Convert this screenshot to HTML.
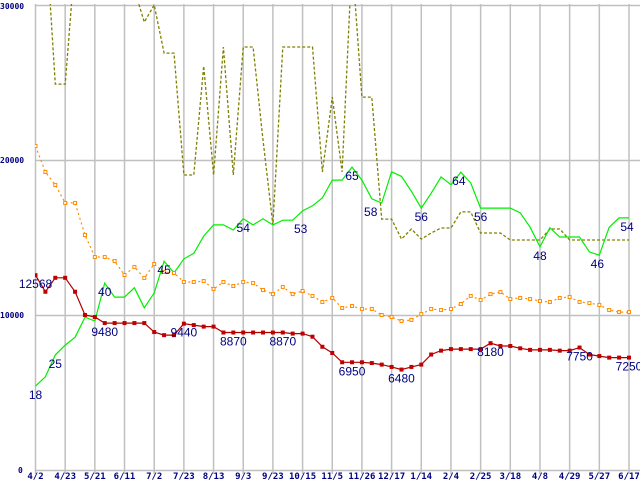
<!DOCTYPE html>
<html><head><meta charset="utf-8"><style>
html,body{margin:0;padding:0;background:#fff;}
svg{display:block;font-family:"Liberation Sans",sans-serif;}
.yt{font:bold 8px "DejaVu Sans Mono","Liberation Mono",monospace;fill:#000080;}
.xt{font:bold 9px "DejaVu Sans Mono","Liberation Mono",monospace;fill:#000080;}
.lb{font:12px "Liberation Sans",sans-serif;fill:#000080;}
</style></head><body>
<svg id="chart" width="640" height="480" xmlns="http://www.w3.org/2000/svg">
<defs><clipPath id="pc"><rect x="35" y="4" width="600" height="466"/></clipPath></defs>
<g id="grid"></g>
<g id="ticks"></g>
<g id="series" clip-path="url(#pc)"></g>
<g id="labels"></g>
</svg>
<script>
const xTickLabels=["4/2","4/23","5/21","6/11","7/2","7/23","8/13","9/3","9/23","10/15","11/5","11/26","12/17","1/14","2/4","2/25","3/18","4/8","4/29","5/27","6/17"];
const yTickValues=[0,10000,20000,30000];
const redSeries=[12568,11500,12400,12400,11500,10000,9870,9480,9480,9480,9480,9480,8900,8700,8700,9440,9350,9250,9250,8870,8870,8870,8870,8870,8870,8870,8800,8800,8600,7950,7550,6950,6950,6950,6900,6800,6650,6480,6650,6800,7450,7700,7800,7800,7800,7800,8180,8000,8000,7850,7750,7750,7750,7700,7700,7900,7450,7350,7250,7250,7250];
const orangeSeries=[20900,19230,18390,17230,17230,15160,13740,13740,13480,12580,13100,12390,13290,12770,12710,12130,12130,12190,11680,12130,11870,12130,12060,11610,11350,11810,11350,11550,11230,10840,11100,10450,10580,10390,10390,10000,9870,9610,9680,10060,10390,10320,10390,10710,11230,10970,11350,11480,11030,11100,11030,10900,10840,11100,11160,10840,10770,10650,10320,10190,10190];
const oliveSeries=[35000,35000,24900,24900,33000,33000,33000,33000,33000,33000,31000,28900,30000,26900,26900,19030,19030,26060,19030,27290,19030,27290,27290,21290,15810,27290,27290,27290,27290,19230,24060,19230,33000,24060,24060,16190,16190,14900,15550,14900,15290,15610,15610,16650,16650,15290,15290,15290,14840,14840,14840,14840,15550,15550,14840,14840,14840,14840,14840,14840,14840];
const greenSeries=[18,20,24.7,26.8,28.5,32.8,32,40.1,37.1,37.1,39.1,34.8,38,44.8,42.3,45.3,46.5,50.2,52.6,52.6,51.5,53.9,52.6,53.9,52.6,53.6,53.6,55.6,56.7,58.4,62.2,62.2,65,62.2,58.2,57.3,64,63,59.8,56.2,59.4,62.9,61.2,63.9,61.6,56.2,56.2,56.2,56.2,55.2,52.1,47.9,52,50,50,50,46.8,46.1,52.1,54.1,54.1];
const redLabels=[[0,"12568",0],[7,"9480",0],[15,"9440",0],[20,"8870",0],[25,"8870",0],[32,"6950",0],[37,"6480",0],[46,"8180",0],[55,"7750",0],[60,"7250",0]];
const greenLabels=[[0,"18",0],[2,"25",0],[7,"40",0],[13,"45",0],[21,"54",0],[26,"53",8],[32,"65",0],[35,"58",-11],[39,"56",0],[43,"64",-2],[45,"56",0],[51,"48",0],[57,"46",-2],[60,"54",-2]];
const NS="http://www.w3.org/2000/svg";
const N=redSeries.length;
function X(i){return 35.5+i*(593.5/(N-1));}
function Y(v){return 470-v*0.0155;}
function YG(v){return 470-v*4.66;}
function mk(tag,attrs,parent){const e=document.createElementNS(NS,tag);for(const k in attrs)e.setAttribute(k,attrs[k]);parent.appendChild(e);return e;}
const grid=document.getElementById('grid'),ticks=document.getElementById('ticks'),ser=document.getElementById('series'),lab=document.getElementById('labels');
yTickValues.forEach(v=>{
  const l=mk('line',{x1:35,x2:640,y1:Y(v)+0.5,y2:Y(v)+0.5,stroke:'#c0c0c0','stroke-width':1.5},grid);
  
  
  const t=mk('text',{x:v===0?18:0,y:Y(v)+(v===30000?4:3),class:'yt'},ticks);
  t.textContent=v;
  
  
});
xTickLabels.forEach((s,k)=>{
  const x=X(k*3);
  const l=mk('line',{x1:x,x2:x,y1:4,y2:474,stroke:'#c0c0c0','stroke-width':1.5},grid);
  
  
  const t=mk('text',{x:x,y:479,'text-anchor':'middle',class:'xt'},ticks);
  t.textContent=s;
  
  
});
function pts(arr,f){return arr.map((v,i)=>X(i).toFixed(1)+','+f(v).toFixed(1)).join(' ');}
const ol=mk('polyline',{points:pts(oliveSeries,Y),fill:'none',stroke:'#808000','stroke-width':1.3,'stroke-dasharray':'3,2'},ser);


const gl=mk('polyline',{points:pts(greenSeries,YG),fill:'none',stroke:'#00ee00','stroke-width':1.2},ser);


const orl=mk('polyline',{points:pts(orangeSeries,Y),fill:'none',stroke:'#ff8c00','stroke-width':1.2,'stroke-dasharray':'2,3'},ser);


orangeSeries.forEach((v,i)=>{
  const r=mk('rect',{x:X(i)-1.5,y:Y(v)-1.5,width:3,height:3,fill:'#fff',stroke:'#ff8c00','stroke-width':1},ser);
  
  
});
const rl=mk('polyline',{points:pts(redSeries,Y),fill:'none',stroke:'#b00000','stroke-width':1.2},ser);


redSeries.forEach((v,i)=>{
  const r=mk('rect',{x:X(i)-2,y:Y(v)-2,width:4,height:4,fill:'#c00000'},ser);
  
  
});
redLabels.forEach(([i,s,dx])=>{
  const t=mk('text',{x:X(i)+dx,y:Y(redSeries[i])+13,'text-anchor':'middle',class:'lb'},lab);
  t.textContent=s;
  
  
});
greenLabels.forEach(([i,s,dx])=>{
  const t=mk('text',{x:X(i)+dx,y:YG(greenSeries[i])+13,'text-anchor':'middle',class:'lb'},lab);
  t.textContent=s;
  
  
});
</script>
</body></html>
